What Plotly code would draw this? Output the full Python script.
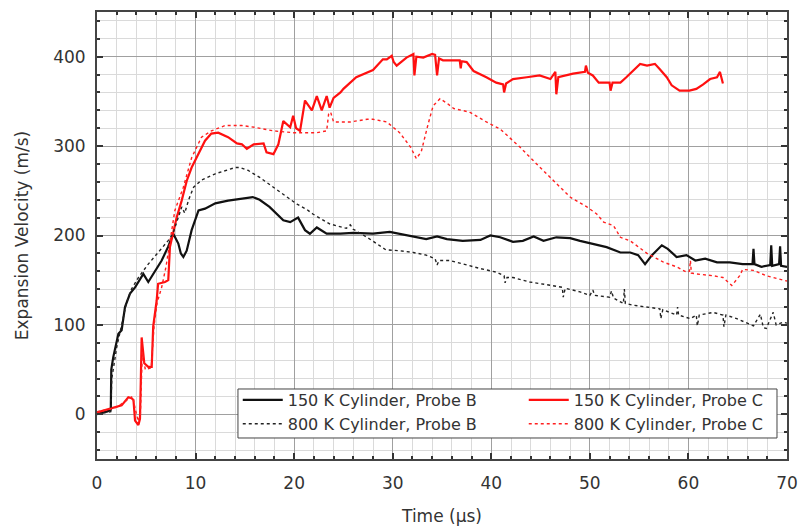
import plotly.graph_objects as go

# ---- data ----
t_150B = [0, 0.5, 1.0, 1.4, 1.45, 1.65, 2.17, 2.5, 2.84, 3.35, 3.86, 4.7, 5.2, 5.9, 6.56, 7.2, 7.74, 8.25, 8.5,
          8.76, 9.1, 9.6, 10.3, 10.96, 12, 13.3, 14, 14.5, 15.8, 16.5, 17.5, 18.9, 19.6, 20.4, 21.1, 21.6, 22.3,
          23.3, 24.7, 26, 28, 29.7, 30.7, 32.1, 33.4, 34.5, 35.5, 37.1, 38.9, 39.9, 40.9, 42.2, 43.2, 44.3, 45.3,
          46.6, 48, 49, 50.3, 51.7, 53.1, 54.1, 54.9, 55.6, 56.3, 57.3, 57.9, 58.8, 59.8, 60.7, 61.7, 62.9, 64.2,
          65.5, 66.5, 66.6, 66.7, 67.4, 68.3, 68.4, 68.5, 69.2, 69.3, 69.4, 70]
v_150B = [0, 2, 3, 5, 50, 64, 90, 94, 120, 135, 142, 157, 148, 161, 172, 187, 202, 191, 180,
          176, 183, 206, 228, 230, 236, 239, 240, 241, 243, 240, 232, 217, 215, 220, 206, 202, 209,
          202, 202, 203, 202, 204, 202, 199, 196, 199, 196, 194, 195, 200, 198, 193, 194, 199, 194,
          198, 197, 194, 191, 187, 181, 181, 178, 168, 178, 189, 185, 176, 178, 172, 174, 170, 170,
          168, 168, 185, 168, 165, 167, 189, 166, 168, 188, 166, 165]

t_800B = [0, 1.4, 1.5, 2, 2.5, 3, 3.5, 4.2, 5.2, 6.2, 7.2, 7.7, 8.25, 8.6, 8.9, 9.3, 9.8, 10.6, 12, 13.3, 14,
          14.5, 15.3, 16.5, 17.9, 19, 20.3, 21.3, 21.9, 23.6, 25.3, 25.7, 26, 27.4, 28.7, 29.3, 30.7, 32.1,
          33.4, 34.3, 34.5, 34.7, 35.8, 37.1, 38.9, 40.5, 41.3, 41.4, 41.6, 42.2, 43.9, 45.6, 47.2, 47.3,
          47.5, 49, 50, 50.3, 50.5, 52, 52.2, 52.4, 53.4, 53.5, 53.6, 54.4, 57.1, 57.2, 57.4, 58.8, 58.9,
          59.0, 60.2, 60.8, 60.9, 61.1, 62.5, 63.5, 63.6, 63.8, 64.9, 66.6, 67.3, 67.6, 67.9, 68.6, 68.9,
          69.6, 70]
v_800B = [0, 3, 40, 75, 100, 125, 140, 153, 168, 181, 194, 202, 222, 232, 225, 240, 254, 262, 269, 274, 276,
          276, 273, 265, 254, 245, 235, 229, 224, 213, 208, 212, 207, 198, 189, 184, 183, 181,
          178, 174, 167, 172, 172, 168, 163, 159, 155, 147, 153, 153, 148, 145, 142, 131,
          141, 137, 133, 139, 133, 131, 138, 130, 124, 140, 124, 122, 118, 107, 117, 111, 120,
          111, 107, 111, 99, 111, 114, 111, 98, 111, 107, 99, 112, 97, 96, 114, 100,
          103, 102]

t_150C = [0, 1.15, 2.5, 3.18, 3.5, 3.7, 3.86, 4.2, 4.36, 4.45, 4.53, 4.8, 5.2, 5.55, 5.7, 6.05, 6.2, 6.9, 7.23,
          7.4, 7.74, 8.08, 8.59, 9.1, 9.6, 10.3, 10.96, 11.6, 12.3, 13.3, 14.2, 14.7, 15.2, 15.9, 16.9, 17.2,
          17.9, 18.4, 18.6, 18.9, 19.6, 19.9, 20.2, 20.6, 21.1, 21.8, 22.3, 22.8, 23.3, 23.6, 24.0, 24.7, 25,
          26.3, 28, 29, 29.4, 29.9, 30.1, 30.4, 31.4, 32.1, 32.2, 32.4, 33.1, 34, 34.3, 34.5, 34.7, 35.1, 36.2,
          36.8, 36.9, 37.0, 37.5, 38.2, 39.5, 40.5, 41.2, 41.3, 41.5, 42.2, 43.6, 44.9, 46, 46.5, 46.6, 46.8,
          48.3, 49.5, 49.6, 49.8, 50.3, 50.9, 52, 52.1, 52.3, 53.1, 53.7, 54.4, 55.1, 55.8, 56.6, 57.1, 57.8,
          58.3, 59.1, 60.1, 60.8, 61.5, 62.2, 62.9, 63.2, 63.5]
v_150C = [2, 6, 10, 19, 18, 16, -7, -12, -5, 40, 86, 57, 53, 53, 98, 127, 146, 148, 150,
          187, 202, 220, 239, 261, 276, 291, 306, 314, 315, 310, 303, 302, 297, 302, 303, 293,
          291, 302, 314, 328, 321, 334, 320, 317, 351, 340, 356, 340, 356, 343, 354, 360, 364,
          377, 385, 397, 397, 401, 394, 390, 399, 403, 379, 400, 399, 403, 402, 379, 398, 396, 396,
          396, 387, 395, 394, 384, 377, 371, 369, 360, 370, 375, 377, 379, 375, 383, 358, 377,
          381, 383, 390, 382, 379, 371, 371, 362, 371, 371, 377, 384, 392, 390, 392, 386, 377,
          368, 362, 362, 364, 369, 375, 377, 383, 370]

t_800C = [0, 1, 2, 3, 3.6, 3.9, 4.2, 4.4, 4.6, 4.9, 5.5, 5.8, 6.1, 6.56, 7, 7.9, 8.76, 9.6, 10.6, 11.6, 13,
          14.7, 16, 17.9, 19.9, 22.3, 23.3, 23.5, 23.7, 24, 25.7, 27.4, 28, 29.4, 30.7, 31.8, 32.4, 32.9,
          33.4, 33.6, 34.1, 34.8, 35.5, 36.2, 37.8, 39.5, 40.9, 42.9, 44.6, 46.3, 48, 49.7, 50.7, 51.4,
          52.4, 53.1, 54.1, 55.8, 57.5, 58.8, 59.8, 60.1, 60.2, 60.3, 60.8, 62.5, 63.5, 64.4, 65.2, 65.5,
          66.6, 67.9, 69.6, 70]
v_800C = [3, 5, 8, 15, 20, 5, -8, 0, 70, 50, 52, 100, 125, 142, 165, 228, 254, 287, 310, 317, 323,
          323, 321, 317, 315, 315, 317, 336, 338, 327, 327, 330, 330, 327, 315, 299, 286, 294,
          317, 325, 345, 353, 348, 342, 338, 327, 319, 299, 280, 261, 243, 232, 224, 215,
          211, 198, 194, 180, 170, 165, 159, 160, 172, 158, 157, 155, 153, 144, 155, 162,
          161, 155, 150, 149]

x_ticks = [0, 10, 20, 30, 40, 50, 60, 70]
y_ticks = [0, 100, 200, 300, 400]

FONT = "DejaVu Sans"
TXT = "#333333"

fig = go.Figure()
fig.add_trace(go.Scatter(x=t_150B, y=v_150B, mode="lines", name="150 K Cylinder, Probe B",
                         line=dict(color="#111111", width=2.2)))
fig.add_trace(go.Scatter(x=t_150C, y=v_150C, mode="lines", name="150 K Cylinder, Probe C",
                         line=dict(color="#ff1010", width=2.2)))
fig.add_trace(go.Scatter(x=t_800B, y=v_800B, mode="lines", name="800 K Cylinder, Probe B",
                         line=dict(color="#222222", width=1.4, dash="dot")))
fig.add_trace(go.Scatter(x=t_800C, y=v_800C, mode="lines", name="800 K Cylinder, Probe C",
                         line=dict(color="#ff2020", width=1.4, dash="dot")))

axis_common = dict(
    showline=True, linecolor="#444444", linewidth=2, mirror="allticks",
    ticks="inside", ticklen=6, tickwidth=1.5, tickcolor="#333333",
    showgrid=True, gridcolor="#a0a0a0", gridwidth=1,
    zeroline=False,
    tickfont=dict(family=FONT, size=17, color=TXT),
)

fig.update_xaxes(
    **axis_common,
    range=[0, 70], tickvals=x_ticks, ticktext=[str(v) for v in x_ticks],
    minor=dict(dtick=2, tick0=0, ticks="inside", ticklen=3, tickcolor="#333333",
               showgrid=True, gridcolor="#dadada", gridwidth=1),
    ticklabelstandoff=8,
    title=dict(text="Time (µs)", font=dict(family=FONT, size=17, color=TXT), standoff=18),
)
fig.update_yaxes(
    **axis_common,
    range=[-50, 450], tickvals=y_ticks, ticktext=[str(v) for v in y_ticks],
    minor=dict(dtick=20, tick0=0, ticks="inside", ticklen=3, tickcolor="#333333",
               showgrid=True, gridcolor="#dadada", gridwidth=1),
    ticklabelstandoff=6,
    title=dict(text="Expansion Velocity (m/s)", font=dict(family=FONT, size=17, color=TXT), standoff=20),
)

# legend frame (drawn as a paper-referenced box; the legend entries sit on top of it)
fig.add_shape(type="rect", xref="paper", yref="paper",
              x0=0.2043, x1=0.9855, y0=0.047, y1=0.1566,
              fillcolor="white", line=dict(color="#444444", width=1), layer="above")

fig.update_layout(
    width=799, height=527,
    margin=dict(l=97, r=12, t=12, b=68, autoexpand=False),
    paper_bgcolor="white", plot_bgcolor="white",
    showlegend=True,
    legend=dict(
        orientation="h", x=0.204, y=0.170, xanchor="left", yanchor="top",
        bgcolor="rgba(0,0,0,0)", borderwidth=0,
        font=dict(family=FONT, size=16, color=TXT),
        entrywidth=231, traceorder="normal",
        itemwidth=40,
    ),
)

# remove the browser's default 8px body margin so the 799x527 figure fills the window exactly
fig.write_html("out.html", config={"displayModeBar": False},
               post_script="document.body.style.margin='0';document.body.style.overflow='hidden';")
